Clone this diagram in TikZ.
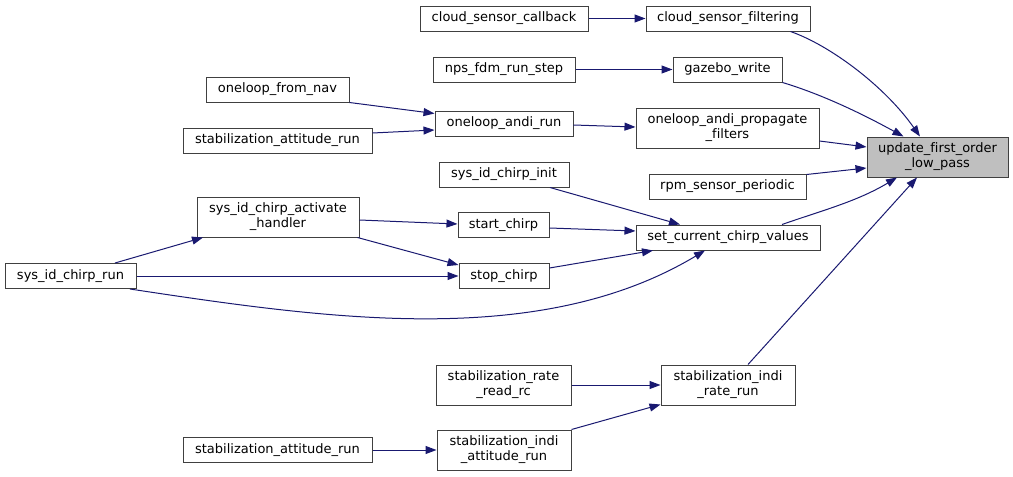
\documentclass[tikz,border=0pt]{standalone}
\usepackage{fontspec}
\setmainfont{DejaVu Sans}[Ligatures=NoCommon]
\usetikzlibrary{arrows.meta}
\definecolor{edgeblue}{HTML}{191970}
\definecolor{boxline}{HTML}{404040}
\definecolor{rootfill}{HTML}{BFBFBF}
\begin{document}
\begin{tikzpicture}[x=1pt,y=-1pt,
  box/.style={draw=boxline,line width=1pt,fill=white,inner sep=0pt,align=center,
    font=\fontsize{13}{15}\selectfont,text=black},
  rootbox/.style={box,fill=rootfill},
  callarrow/.style={draw=edgeblue,line width=1pt,-{Triangle[length=11pt,width=8pt]}}]
\useasboundingbox (0,0) rectangle (1013,477);
% nodes
\node[rootbox,minimum width=141,minimum height=40] (upd) at (937.5,157) {update\_first\_order\\\_low\_pass};
\node[box,minimum width=164,minimum height=25] (csf) at (728,18.5) {cloud\_sensor\_filtering};
\node[box,minimum width=168,minimum height=25] (csc) at (504,18.5) {cloud\_sensor\_callback};
\node[box,minimum width=109,minimum height=25] (gz) at (727.5,69.5) {gazebo\_write};
\node[box,minimum width=142,minimum height=25] (nps) at (504,69.5) {nps\_fdm\_run\_step};
\node[box,minimum width=183,minimum height=40] (oapf) at (727.5,128) {oneloop\_andi\_propagate\\\_filters};
\node[box,minimum width=138,minimum height=25] (oar) at (504,123.5) {oneloop\_andi\_run};
\node[box,minimum width=143,minimum height=25] (ofn) at (277.5,89.5) {oneloop\_from\_nav};
\node[box,minimum width=189,minimum height=25] (sara) at (277.5,140.5) {stabilization\_attitude\_run};
\node[box,minimum width=157,minimum height=25] (rpm) at (727.5,186.5) {rpm\_sensor\_periodic};
\node[box,minimum width=130,minimum height=25] (sci) at (504,174.5) {sys\_id\_chirp\_init};
\node[box,minimum width=184,minimum height=25] (scv) at (728,237.5) {set\_current\_chirp\_values};
\node[box,minimum width=91,minimum height=25] (stc) at (503.5,225) {start\_chirp};
\node[box,minimum width=90,minimum height=25] (spc) at (504,276) {stop\_chirp};
\node[box,minimum width=162,minimum height=40] (sah) at (278,217) {sys\_id\_chirp\_activate\\\_handler};
\node[box,minimum width=131,minimum height=25] (scr) at (70.5,276) {sys\_id\_chirp\_run};
\node[box,minimum width=134,minimum height=40] (sirr) at (728,385) {stabilization\_indi\\\_rate\_run};
\node[box,minimum width=135,minimum height=40] (srrc) at (503.5,385) {stabilization\_rate\\\_read\_rc};
\node[box,minimum width=134,minimum height=40] (siar) at (504,450) {stabilization\_indi\\\_attitude\_run};
\node[box,minimum width=189,minimum height=25] (sarb) at (277.5,450) {stabilization\_attitude\_run};
% edges
\draw[callarrow] (csc.east) -- (csf.west);
\draw[callarrow] ([xshift=-20pt]csf.south east) .. controls +(40,14) and +(-35,-50) .. ([xshift=-17.5pt]upd.north);
\draw[callarrow] (nps.east) -- (gz.west);
\draw[callarrow] (gz.south east) .. controls +(40,12) and +(-40,-22) .. ([xshift=-34pt]upd.north);
\draw[callarrow] (ofn.south east) -- ([yshift=10pt]oar.west);
\draw[callarrow] ([yshift=7.5pt]sara.east) -- ([yshift=-6.5pt]oar.west);
\draw[callarrow] ([yshift=-1.5pt]oar.east) -- ([yshift=1pt]oapf.west);
\draw[callarrow] ([yshift=-13pt]oapf.east) -- ([yshift=10pt]upd.west);
\draw[callarrow] ([yshift=-1pt]rpm.north east) -- ([yshift=-11pt]upd.west);
\draw[callarrow] ([xshift=46pt]sci.south) -- ([xshift=-48pt]scv.north);
\draw[callarrow] ([yshift=-3pt]stc.east) -- ([yshift=6.5pt]scv.west);
\draw[callarrow] ([yshift=8pt]spc.east) -- ([xshift=-75pt]scv.south);
\draw[callarrow] ([xshift=59.5pt]scr.south) .. controls +(198,30) and +(-165,99) .. ([xshift=-23pt]scv.south);
\draw[callarrow] ([xshift=54pt]scv.north) .. controls +(40,-14) and +(-40,24) .. ([xshift=-40.5pt]upd.south);
\draw[callarrow] ([yshift=-3pt]sah.east) -- ([yshift=1pt]stc.west);
\draw[callarrow] ([xshift=-2pt]sah.south east) -- ([yshift=11pt]spc.west);
\draw[callarrow] ([xshift=44.5pt]scr.north) -- ([xshift=-75pt]sah.south);
\draw[callarrow] (scr.east) -- (spc.west);
\draw[callarrow] ([xshift=20pt]sirr.north) -- ([xshift=-20.5pt]upd.south);
\draw[callarrow] (srrc.east) -- (sirr.west);
\draw[callarrow] (siar.north east) -- ([yshift=1pt]sirr.south west);
\draw[callarrow] (sarb.east) -- (siar.west);
\end{tikzpicture}
\end{document}
